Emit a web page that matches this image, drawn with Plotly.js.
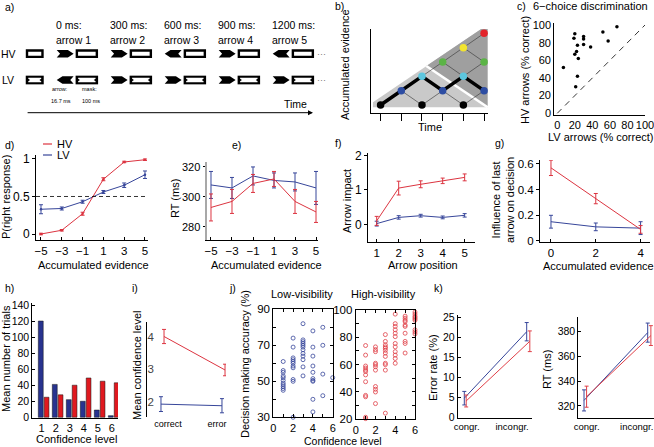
<!DOCTYPE html>
<html><head><meta charset="utf-8">
<script src="https://cdn.plot.ly/plotly-3.0.1.min.js"></script>
<style>html,body{margin:0;padding:0;background:#fff;}#plot{width:654px;height:447px;}</style>
</head><body><div id="plot"></div>
<script>
const W=654,H=447;
const RED='#dc3440', BLUE='#37469a';

// ---------- DATA ----------
// a) trial timeline
const arrowTimes=[0,300,600,900,1200];
const arrowLabels=['arrow 1','arrow 2','arrow 3','arrow 4','arrow 5'];
const hvDirs=[1,1,-1,1,-1];
const lvDirs=[-1,1,1,1,1];
// b) evidence lattice
const bTimes=[0,1,2,3,4,5];
const bLevels=[0,1,2,3,4,5];
const levelColors=['#000000','#2d4da3','#5cc6de','#5bb446','#f2e42f','#e2242b'];
const pathT=[0,1,2,3,4,5];
const pathL=[0,1,2,1,2,1];
// c) 6-choice discrimination
const cLV=[7,20,19,23,22,20,24,23,21,30,30,30,38,52,58,68];
const cHV=[52,90,85,77,70,67,62,42,30,87,84,78,75,92,82,98];
const diag=[0,100];
// d) P(right response)
const evid=[-5,-3,-1,1,3,5];
const dHV=[0.00,0.05,0.27,0.73,0.96,0.99], dHVerr=[0.01,0.01,0.02,0.02,0.01,0.01];
const dLV=[0.33,0.34,0.43,0.56,0.65,0.79], dLVerr=[0.06,0.02,0.02,0.02,0.03,0.05];
// e) RT
const eHV=[293,297,309,312,297,290], eHVerr=[9,8,6,5,8,7];
const eLV=[308,306,314,311,310,306], eLVerr=[9,7,6,5,6,11];
// f) arrow impact
const arrowPos=[1,2,3,4,5];
const fHV=[0.10,1.05,1.16,1.26,1.36], fHVerr=[0.13,0.2,0.1,0.08,0.1];
const fLV=[0.02,0.20,0.25,0.20,0.26], fLVerr=[0.07,0.05,0.04,0.04,0.05];
// g) influence of last arrow
const gEvid=[0,2,4];
const gHV=[0.57,0.33,0.09], gHVerr=[0.06,0.04,0.03];
const gLV=[0.15,0.11,0.10], gLVerr=[0.05,0.03,0.05];
// h) confidence histogram
const confLevels=[1,2,3,4,5,6];
const hLV=[120,41,22,20,9,2];
const hHV=[25,28,40,49,45,43];
// i) mean confidence
const iCats=['correct','error'];
const iLV=[1.92,1.87], iLVerr=[0.23,0.22];
const iHV=[4.02,2.98], iHVerr=[0.22,0.18];
// j) accuracy vs confidence
const jLVconf=[1,1,1,1,1,1,1,1,1,1,1, 2,2,2,2,2,2,2,2,2,2,2, 3,3,3,3,3,3,3,3,3,3,3,3, 4,4,4,4,4,4,4,4,4,4, 5,5,5,5, 6];
const jLVacc=[61,56,55,53,52,50.5,49,48,47,46,45, 74,69,63,62,61,60,58.5,57.5,51,50,30, 82,73,72,71,70,69,67.5,65.5,64,62,58,53, 78,69,64,58.5,55,51.5,50.5,50,40,33, 80,70,54,42, 52];
const jHVconf=[1,1,1,1,1,1,1,1,1,1,1,1, 2,2,2,2,2,2,2,2,2,2,2, 3,3,3,3,3,3,3,3,3,3,3,3, 4,4,4,4,4,4,4,4,4,4,4,4, 5,5,5,5,5,5,5,5,5,5, 6,6,6,6,6,6,6,6,6];
const jHVacc=[74,67,59,57.5,56,55,52.5,47.5,37.5,36.5,21.5,20.5, 73,71,69.5,61,60,58.5,56,44,42,40,31.5, 82,77,74.5,73,72,70.5,68.5,66,61,60,56,24.5, 97,90,88,85.5,83,80.5,75.5,73,69.5,67,64.5,61, 95.5,94,92.5,91.5,89,88,83,77,75.5,68.5, 98.5,97,95.5,94.5,93.5,92.5,85.5,84,82.5];
// k) congruency
const kCats=['congr.','incongr.'];
const kErrLV=[4.8,21.5], kErrLVerr=[1.7,2.3];
const kErrHV=[4.1,19.1], kErrHVerr=[1.5,2.6];
const kRtLV=[324.5,379.2], kRtLVerr=[8.5,7.7];
const kRtHV=[327.5,376.8], kRtHVerr=[8.5,8];

// ---------- HELPERS ----------
const xd=(a,b)=>[a/W,b/W];
const yd=(top,bot)=>[1-bot/H,1-top/H];
const traces=[], shapes=[], anns=[];
const layout={width:W,height:H,margin:{l:0,r:0,t:0,b:0},paper_bgcolor:'#fff',plot_bgcolor:'rgba(0,0,0,0)',
  showlegend:false,barmode:'overlay',font:{family:'Liberation Sans, Arial, sans-serif',size:11,color:'#000'},
  shapes:shapes,annotations:anns};
const xr=n=>n===1?'x':'x'+n, yr=n=>n===1?'y':'y'+n;
function setAx(n,xo,yo){layout['xaxis'+(n===1?'':n)]=Object.assign({anchor:yr(n)},xo);layout['yaxis'+(n===1?'':n)]=Object.assign({anchor:xr(n)},yo);}
function base(dom,range,o){return Object.assign({domain:dom,range:range,showline:true,linecolor:'#000',linewidth:1,ticks:'outside',ticklen:3,tickwidth:1,tickcolor:'#000',showgrid:false,zeroline:false,tickfont:{size:12,color:'#000'},ticklabeloverflow:'allow',fixedrange:true},o||{});}
function hid(dom,range){return {domain:dom,range:range,visible:false,fixedrange:true};}
function A(text,x,y,size,o){anns.push(Object.assign({text:text,x:x/W,y:1-y/H,xref:'paper',yref:'paper',showarrow:false,font:{size:size||11,color:'#000'},xanchor:'center',yanchor:'middle'},o||{}));}
function ln(x,y,err,color,n,extra){const t={type:'scatter',mode:'lines',x:x,y:y,xaxis:xr(n),yaxis:yr(n),line:{color:color,width:1},hoverinfo:'skip',cliponaxis:false};
  if(err)t.error_y={type:'data',array:err,visible:true,color:color,thickness:1,width:2};return Object.assign(t,extra||{});}
const XIN={ticks:'inside',ticklen:3,tickfont:{size:11.5}};

// ---------- a) timeline ----------
setAx(1,hid(xd(0,330),[-315,1518.3]),hid(yd(0,140),[-2.281,3.042]));
const AR_W=94, MASK0=105, MASK1=230, BL0=-172, BL1=-72, RH=0.165, AH=0.14;
function arrowPath(t0,y,dir){const w=AR_W,t1=t0+w;let p;
  if(dir>0)p=[[t0,y-AH],[t0+0.66*w,y-AH],[t1,y],[t0+0.66*w,y+AH],[t0,y+AH],[t0+0.2*w,y]];
  else p=[[t1,y-AH],[t1-0.66*w,y-AH],[t0,y],[t1-0.66*w,y+AH],[t1,y+AH],[t1-0.2*w,y]];
  return 'M'+p.map(q=>q[0]+','+q[1]).join(' L')+' Z';}
function hvRect(x0,x1,y){shapes.push({type:'rect',xref:'x',yref:'y',x0:x0+7,x1:x1-7,y0:y-RH+0.045,y1:y+RH-0.045,line:{color:'#000',width:2.4},fillcolor:'#fff'});}
function lvRect(x0,x1,y){shapes.push({type:'rect',xref:'x',yref:'y',x0:x0,x1:x1,y0:y-RH,y1:y+RH,line:{width:0},fillcolor:'#000'});
  const a=x0+14,b=x1-14,yt=y+RH-0.08,yb=y-RH+0.08;
  const p=[[a,yt],[b,yt],[b,y+0.05],[b-10,y],[b,y-0.05],[b,yb],[a,yb],[a,y-0.05],[a+10,y],[a,y+0.05]];
  shapes.push({type:'path',xref:'x',yref:'y',path:'M'+p.map(q=>q[0]+','+q[1]).join(' L')+' Z',fillcolor:'#fff',line:{width:0}});}
hvRect(BL0,BL1,1); lvRect(BL0,BL1,0);
arrowTimes.forEach((t,i)=>{
  shapes.push({type:'path',xref:'x',yref:'y',path:arrowPath(t,1,hvDirs[i]),fillcolor:'#000',line:{width:0}});
  shapes.push({type:'path',xref:'x',yref:'y',path:arrowPath(t,0,lvDirs[i]),fillcolor:'#000',line:{width:0}});
  hvRect(t+MASK0,t+MASK1,1); lvRect(t+MASK0,t+MASK1,0);
  anns.push({text:t+' ms:',x:t-15,y:2.09,xref:'x',yref:'y',showarrow:false,xanchor:'left',yanchor:'middle',font:{size:10.5}});
  anns.push({text:arrowLabels[i],x:t-15,y:1.52,xref:'x',yref:'y',showarrow:false,xanchor:'left',yanchor:'middle',font:{size:10.5}});
});
['HV','LV'].forEach((s,k)=>{anns.push({text:s,x:-270,y:1-k,xref:'x',yref:'y',showarrow:false,font:{size:10.5}});
  anns.push({text:'···',x:1470,y:1-k,xref:'x',yref:'y',showarrow:false,font:{size:9,color:'#777'}});});
[['arrow:',-37,-0.36],['16.7 ms',-42,-0.78],['mask:',129,-0.36],['100 ms',129,-0.78]].forEach(q=>
  anns.push({text:q[0],x:q[1],y:q[2],xref:'x',yref:'y',showarrow:false,xanchor:'left',font:{size:5.5}}));
anns.push({text:'',x:1424,y:-1.243,ax:-170,ay:-1.243,xref:'x',yref:'y',axref:'x',ayref:'y',showarrow:true,arrowhead:2,arrowsize:1,arrowwidth:1,arrowcolor:'#000'});
anns.push({text:'Time',x:1329,y:-0.92,xref:'x',yref:'y',showarrow:false,font:{size:10.5}});

// ---------- b) lattice ----------
setAx(2,base(xd(370.7,488),[-0.478,5.19],{tickmode:'array',tickvals:bTimes,showticklabels:false,ticklen:7}),
        base(yd(29,113),[-0.558,5.30],{ticks:'',showticklabels:false}));
shapes.push({type:'path',xref:'x2',yref:'y2',layer:'below',path:'M-0.37,-0.16 L5.17,-0.16 L5.17,5.6 L-0.37,0.2 Z',fillcolor:'#c9c9c9',line:{width:0}});
shapes.push({type:'path',xref:'x2',yref:'y2',layer:'below',path:'M2.21,2.72 L5.17,5.6 L5.17,-0.16 Z',fillcolor:'#9f9f9f',line:{width:0}});
shapes.push({type:'line',xref:'x2',yref:'y2',layer:'below',x0:2.21,y0:2.72,x1:5.17,y1:-0.16,line:{color:'#fff',width:2.5}});
const latX=[],latY=[],nX=[],nY=[],nC=[];
bTimes.forEach(t=>bLevels.forEach(l=>{if(l<=t&&(t+l)%2===0){nX.push(t);nY.push(l);nC.push(levelColors[l]);
  if(t<5){latX.push(t,t+1,null);latY.push(l,l+1,null);if(l>0){latX.push(t,t+1,null);latY.push(l,l-1,null);}}}}));
traces.push({type:'scatter',mode:'lines',x:latX,y:latY,xaxis:'x2',yaxis:'y2',line:{color:'#333',width:0.6},hoverinfo:'skip'});
traces.push({type:'scatter',mode:'lines',x:pathT,y:pathL,xaxis:'x2',yaxis:'y2',line:{color:'#000',width:3.5},hoverinfo:'skip'});
traces.push({type:'scatter',mode:'markers',x:nX,y:nY,xaxis:'x2',yaxis:'y2',marker:{size:7.5,color:nC,line:{width:0}},hoverinfo:'skip',cliponaxis:false});
traces.push({type:'scatter',mode:'markers+text',x:bLevels.map(()=>-0.76),y:bLevels,text:bLevels.map(String),textposition:'middle center',
  textfont:{size:4.5,color:bLevels.map(l=>l===4?'#333':'#fff')},xaxis:'x2',yaxis:'y2',marker:{size:6,color:levelColors},hoverinfo:'skip',cliponaxis:false});
A('Time',430,127.5,11);
A('Accumulated evidence',345,64,11,{textangle:-90});

// ---------- c) scatter ----------
const t20=[0,20,40,60,80,100];
setAx(3,base(xd(554.2,645),[-3.5,100],{tickmode:'array',tickvals:t20,tickfont:{size:11},ticks:'',ticklen:0}),
        base(yd(22.7,115.1),[-2.04,102.6],{tickmode:'array',tickvals:t20,tickfont:{size:11},ticks:'',ticklen:0}));
traces.push({type:'scatter',mode:'lines',x:diag,y:diag,xaxis:'x3',yaxis:'y3',line:{color:'#000',width:0.8,dash:'6px,5px'},hoverinfo:'skip'});
traces.push({type:'scatter',mode:'markers',x:cLV,y:cHV,xaxis:'x3',yaxis:'y3',marker:{size:3.5,color:'#000'},hoverinfo:'skip'});
A('6\u2212choice discrimination',590,6,11);
A('LV arrows (% correct)',601,137,11);
A('HV arrows (% correct)',525,70,11,{textangle:-90});

// ---------- d) ----------
setAx(4,base(xd(36,148),[-5.48,5.29],Object.assign({tickmode:'array',tickvals:evid},XIN)),
        base(yd(155,240),[-0.08,1.053],{tickmode:'array',tickvals:[0,0.5,1],ticktext:['0','0.5','1']}));
shapes.push({type:'line',xref:'x4 domain',yref:'y4',x0:0,x1:1,y0:0.5,y1:0.5,line:{color:'#000',width:0.8,dash:'4px,3px'}});
traces.push(ln(evid,dLV,dLVerr,BLUE,4,{mode:'lines+markers',marker:{size:2.5,color:BLUE}}));
traces.push(ln(evid,dHV,dHVerr,RED,4,{mode:'lines+markers',marker:{size:2.5,color:RED}}));
shapes.push({type:'line',xref:'paper',yref:'paper',x0:43/W,x1:52/W,y0:1-144/H,y1:1-144/H,line:{color:RED,width:1.2}});
shapes.push({type:'line',xref:'paper',yref:'paper',x0:43/W,x1:52/W,y0:1-155/H,y1:1-155/H,line:{color:BLUE,width:1.2}});
A('HV',55,144,11,{xanchor:'left'}); A('LV',55,155,11,{xanchor:'left'});
A('P(right response)',6,197,11,{textangle:-90});
A('Accumulated evidence',93,265,11);

// ---------- e) ----------
setAx(5,base(xd(207,318),[-5.38,5.19],Object.assign({tickmode:'array',tickvals:evid},XIN)),
        base(yd(162,240),[271.3,323.3],{tickmode:'array',tickvals:[280,300,320],tickfont:{size:11},ticklen:2,linecolor:'#a8a8a8',linewidth:2.5}));
traces.push(ln(evid,eLV,eLVerr,BLUE,5));
traces.push(ln(evid,eHV,eHVerr,RED,5));
A('RT (ms)',175,199,11,{textangle:-90});
A('Accumulated evidence',266,265,11);

// ---------- f) ----------
setAx(6,base(xd(368,475),[0.605,5.47],Object.assign({tickmode:'array',tickvals:arrowPos},XIN)),
        base(yd(153,241.7),[-0.504,2.067],{tickmode:'array',tickvals:[0,1,2]}));
traces.push(ln(arrowPos,fLV,fLVerr,BLUE,6));
traces.push(ln(arrowPos,fHV,fHVerr,RED,6));
A('Arrow impact',347,201,11,{textangle:-90});
A('Arrow position',423,265,11);

// ---------- g) ----------
setAx(7,base(xd(540,650),[-0.49,4.42],Object.assign({tickmode:'array',tickvals:gEvid},XIN)),
        base(yd(160,242),[-0.008,0.631],{tickmode:'array',tickvals:[0,0.2,0.4,0.6],ticktext:['0','0.2','0.4','0.6'],tickfont:{size:11.5}}));
traces.push(ln(gEvid,gLV,gLVerr,BLUE,7));
traces.push(ln(gEvid,gHV,gHVerr,RED,7));
A('Influence of last<br>arrow on decision',503,200,11,{textangle:-90});
A('Accumulated evidence',598,266,11);

// ---------- h) bars ----------
setAx(8,base(xd(32.3,118),[0.33,6.45],{tickmode:'array',tickvals:confLevels,ticks:'',tickfont:{size:11}}),
        base(yd(303,418),[-0.9,142.5],{tickmode:'array',tickvals:[0,20,40,60,80,100,120,140],ticks:'inside',tickfont:{size:10.5}}));
traces.push({type:'bar',x:confLevels,y:hLV,xaxis:'x8',yaxis:'y8',offset:-0.24,width:0.35,marker:{color:'#28338f',line:{color:'#111',width:0.5}},hoverinfo:'skip'});
traces.push({type:'bar',x:confLevels,y:hHV,xaxis:'x8',yaxis:'y8',offset:0.18,width:0.34,marker:{color:'#e0191f',line:{color:'#111',width:0.5}},hoverinfo:'skip'});
A('Mean number of trials',6,359,11,{textangle:-90});
A('Confidence level',76,439,11);

// ---------- i) ----------
setAx(9,base(xd(146.7,226),[0.766,2.066],{tickmode:'array',tickvals:[1.115,1.92],ticktext:iCats,ticks:'',showline:false,tickfont:{size:9}}),
        base(yd(322,417),[1.52,4.47],{tickmode:'array',tickvals:[2,3,4],ticks:'',ticklabelposition:'inside',tickfont:{size:11.5}}));
traces.push(ln([1,2],iLV,iLVerr,BLUE,9));
traces.push(ln([1.05,2.05],iHV,iHVerr,RED,9));
A('Mean confidence level',137,366,11,{textangle:-90});

// ---------- j) ----------
const jx={tickmode:'array',tickvals:[0,1,2,3,4,5,6],ticktext:['0','','2','','4','','6'],ticks:'inside',ticklen:3,mirror:'ticks',tickfont:{size:11}};
setAx(10,base(xd(273.3,332.7),[0,6],jx),
         base(yd(309.3,417.3),[30,90],{tickmode:'array',tickvals:[30,40,50,60,70,80,90],ticktext:['30','','50','','70','','90'],ticks:'inside',mirror:'ticks',tickfont:{size:11.5}}));
setAx(11,base(xd(355.7,415),[0,6],jx),
         base(yd(310,419.3),[20,100],{tickmode:'array',tickvals:[20,30,40,50,60,70,80,90,100],ticktext:['20','','40','','60','','80','','100'],ticks:'inside',mirror:'ticks',tickfont:{size:11.5}}));
traces.push({type:'scatter',mode:'markers',x:jLVconf,y:jLVacc,xaxis:'x10',yaxis:'y10',marker:{symbol:'circle-open',size:4,color:BLUE,line:{width:0.8,color:BLUE}},hoverinfo:'skip',cliponaxis:false});
traces.push({type:'scatter',mode:'markers',x:jHVconf,y:jHVacc,xaxis:'x11',yaxis:'y11',marker:{symbol:'circle-open',size:4,color:'#e04048',line:{width:0.8,color:'#e04048'}},hoverinfo:'skip',cliponaxis:false});
A('Low-visibility',302,294,11);
A('High-visibility',383,294,11);
A('Decision making accuracy (%)',245,364,11,{textangle:-90});
A('Confidence level',343,441,10.5);

// ---------- k) ----------
setAx(12,base(xd(457.7,532),[0.894,2.085],{tickmode:'array',tickvals:[1.037,1.766],ticktext:kCats,ticks:'',tickfont:{size:9.5}}),
         base(yd(315,418),[-0.18,25.7],{tickmode:'array',tickvals:[0,5,10,15,20,25],ticks:'inside',tickfont:{size:10.5}}));
setAx(13,base(xd(578.3,654),[0.91,2.099],{tickmode:'array',tickvals:[1.042,1.827],ticktext:kCats,ticks:'',tickfont:{size:9.5}}),
         base(yd(317,418),[310.3,391.8],{tickmode:'array',tickvals:[320,340,360,380],ticks:'inside',tickfont:{size:10.5}}));
traces.push(ln([1,2],kErrLV,kErrLVerr,BLUE,12));
traces.push(ln([1.03,2.05],kErrHV,kErrHVerr,'#e04048',12));
traces.push(ln([1,2],kRtLV,kRtLVerr,BLUE,13));
traces.push(ln([1.04,2.05],kRtHV,kRtHVerr,'#e04048',13));
A('Error rate (%)',433,368,11,{textangle:-90});
A('RT (ms)',547,370,11,{textangle:-90});

// ---------- panel letters ----------
[['a)',3,7],['b)',333,6],['c)',515,6],['d)',3,145],['e)',230,145],['f)',333,143],['g)',493,143],
 ['h)',3,288],['i)',130,288],['j)',227,288],['k)',432,288]].forEach(q=>A(q[0],q[1],q[2],10.5,{xanchor:'left'}));

Plotly.newPlot('plot',traces,layout,{staticPlot:true,displayModeBar:false});
</script></body></html>
